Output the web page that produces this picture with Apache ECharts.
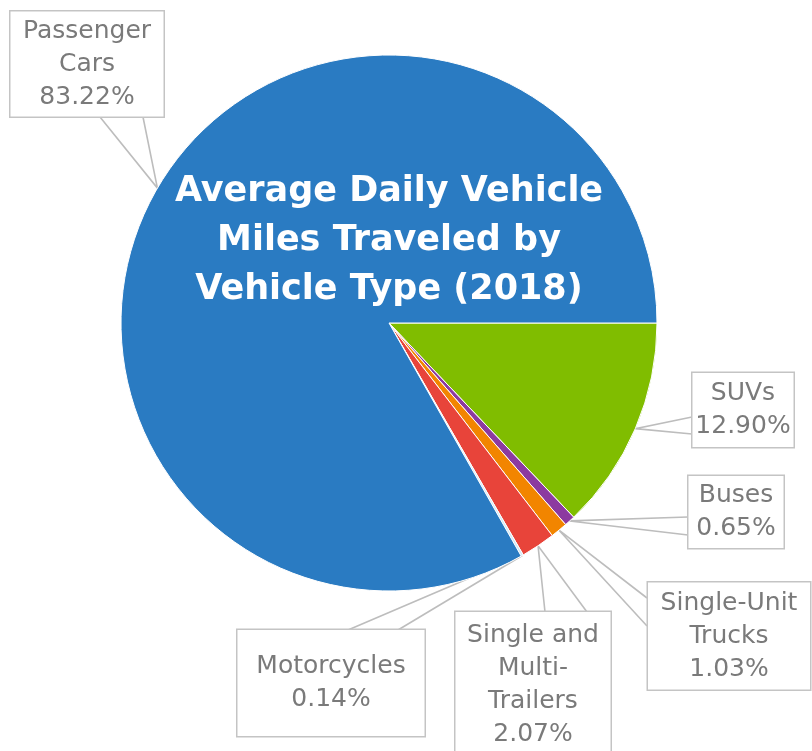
<!DOCTYPE html>
<html>
<head>
<meta charset="utf-8">
<script src="https://cdn.jsdelivr.net/npm/echarts@6/dist/echarts.min.js"></script>
<style>
  html, body { margin: 0; padding: 0; background: #ffffff; }
  #chart { width: 812px; height: 751px; }
</style>
</head>
<body>
<div id="chart"></div>
<script>
// Share of average daily vehicle miles traveled, 2018 (percent)
const categories = ['SUVs', 'Buses', 'Single-Unit Trucks', 'Single and Multi-Trailers', 'Motorcycles', 'Passenger Cars'];
const labelTexts = ['SUVs', 'Buses', 'Single-Unit\nTrucks', 'Single and\nMulti-\nTrailers', 'Motorcycles', 'Passenger\nCars'];
const shares = [12.90, 0.65, 1.03, 2.07, 0.14, 83.22];
const sliceColors = ['#80bd00', '#8c3aa0', '#f28500', '#e8443a', '#cfe9f8', '#2a7bc2'];
const titleText = 'Average Daily Vehicle\nMiles Traveled by\nVehicle Type (2018)';

// Callout boxes: centre, content width, vertical padding
const calloutCentres = [[743, 410], [736, 512], [729, 636], [533, 685], [331, 683], [87, 64]];
const calloutWidths = [101, 95, 162, 155, 187, 153];
const calloutPadV = [4, 3, 4, 7, 20, 3];
// Where the two sides of each callout pointer meet the box edge
const calloutBase = [
  [[692, 417], [692, 434]],
  [[688, 517], [688, 535]],
  [[647, 598], [647, 626]],
  [[545, 612], [587, 612]],
  [[348, 630], [398, 630]],
  [[100, 117], [143, 117]]
];

const chart = echarts.init(document.getElementById('chart'), null, { renderer: 'canvas' });

const FONT = '"DejaVu Sans", sans-serif';

const pieData = categories.map((name, i) => ({
  name: name,
  value: shares[i],
  itemStyle: { color: sliceColors[i] },
  label: { width: calloutWidths[i], padding: [calloutPadV[i], 0] }
}));

chart.setOption({
  backgroundColor: '#ffffff',
  animation: false,
  series: [{
    type: 'pie',
    center: [389, 323],
    radius: 268,
    startAngle: 0,
    clockwise: true,
    avoidLabelOverlap: false,
    minAngle: 0,
    itemStyle: { borderColor: '#ffffff', borderWidth: 1 },
    data: pieData,
    label: {
      show: true,
      position: 'outside',
      formatter: p => labelTexts[p.dataIndex] + '\n' + p.value.toFixed(2) + '%',
      fontFamily: FONT,
      fontSize: 25,
      lineHeight: 33,
      color: '#7a7a7a',
      align: 'center',
      backgroundColor: '#ffffff',
      borderColor: '#c4c4c4',
      borderWidth: 1.5
    },
    labelLine: {
      show: true,
      length: 10,
      length2: 10,
      smooth: false,
      lineStyle: { color: '#bdbdbd', width: 1.6 }
    },
    labelLayout: function (params) {
      const i = params.dataIndex;
      const c = calloutCentres[i];
      const out = { x: c[0], y: c[1], align: 'center', verticalAlign: 'middle' };
      const pts = params.labelLinePoints;
      if (pts && pts.length) {
        const tip = pts[0];
        const base = calloutBase[i];
        out.labelLinePoints = [base[0], [tip[0], tip[1]], base[1]];
      }
      return out;
    },
    emphasis: { disabled: true }
  }],
  graphic: [{
    type: 'text',
    x: 389,
    y: 241,
    z: 100,
    style: {
      text: titleText,
      fill: '#ffffff',
      font: 'bold 35px ' + FONT,
      lineHeight: 49,
      align: 'center',
      verticalAlign: 'middle'
    }
  }]
});
</script>
</body>
</html>
